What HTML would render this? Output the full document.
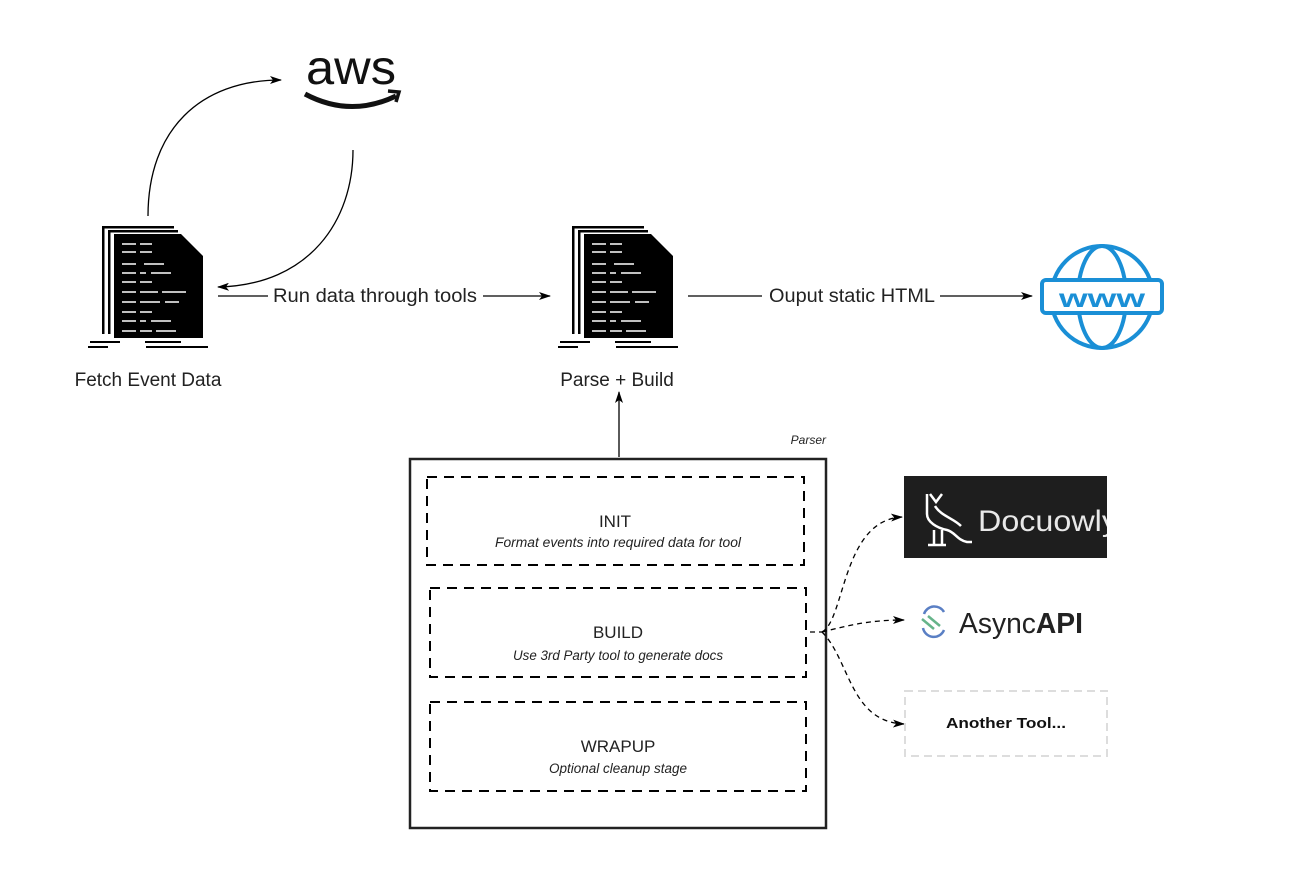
<!DOCTYPE html>
<html><head><meta charset="utf-8"><style>
html,body{margin:0;padding:0;background:#fff;width:1312px;height:878px;overflow:hidden}
text{font-family:"Liberation Sans",sans-serif;fill:#222}
</style></head><body>
<svg width="1312" height="878" viewBox="0 0 1312 878" xmlns="http://www.w3.org/2000/svg">
<defs>
<marker id="ar" markerWidth="12" markerHeight="8" refX="11" refY="4" orient="auto" markerUnits="userSpaceOnUse">
<path d="M0,0 L12,4 L0,8 L3,4 Z" fill="#000"/></marker>
<g id="doc">
<rect x="12" y="0" width="2.5" height="108" fill="#000"/><rect x="12" y="0" width="72" height="2.5" fill="#000"/>
<rect x="18" y="4" width="2.5" height="104" fill="#000"/><rect x="18" y="4" width="70" height="2.5" fill="#000"/>
<path d="M24,8 L91,8 L113,30 L113,112 L24,112 Z" fill="#000"/>
<g stroke="#fff" stroke-width="1.6">
<path d="M32,18h14M50,18h12"/>
<path d="M32,26h14M50,26h12"/>
<path d="M32,38h14M54,38h20"/>
<path d="M32,47h14M50,47h6M61,47h20"/>
<path d="M32,56h14M50,56h12"/>
<path d="M32,66h14M50,66h18M72,66h24"/>
<path d="M32,76h14M50,76h20M75,76h14"/>
<path d="M32,86h14M50,86h12"/>
<path d="M32,95h14M50,95h6M61,95h20"/>
<path d="M32,105h14M50,105h12M66,105h20"/>
</g>
<path d="M0,116h30M55,116h36M-2,121h20M56,121h62" stroke="#000" stroke-width="2"/>
</g>
</defs>

<!-- AWS -->
<text x="306" y="84" font-size="48" fill="#111" style="fill:#111" textLength="90" lengthAdjust="spacingAndGlyphs">aws</text>
<path d="M305,94 Q350,118 396,96" stroke="#111" stroke-width="5" fill="none"/>
<path d="M388,91 L399,92 L396,102" stroke="#111" stroke-width="3.5" fill="none"/>

<!-- curved arrows -->
<path d="M148,216 C148,130 200,80 281,80" stroke="#000" stroke-width="1.3" fill="none" marker-end="url(#ar)"/>
<path d="M353,150 C353,220 310,285 218,287" stroke="#000" stroke-width="1.3" fill="none" marker-end="url(#ar)"/>

<!-- docs -->
<use href="#doc" transform="translate(90,226)"/>
<use href="#doc" transform="translate(560,226)"/>
<text x="148" y="386" font-size="19" text-anchor="middle">Fetch Event Data</text>
<text x="617" y="386" font-size="19" text-anchor="middle">Parse + Build</text>

<!-- horizontal arrows -->
<path d="M218,296 H268" stroke="#000" stroke-width="1.3"/>
<path d="M483,296 H550" stroke="#000" stroke-width="1.3" marker-end="url(#ar)"/>
<text x="375" y="302" font-size="19" text-anchor="middle" textLength="204" lengthAdjust="spacingAndGlyphs">Run data through tools</text>
<path d="M688,296 H762" stroke="#000" stroke-width="1.3"/>
<path d="M940,296 H1032" stroke="#000" stroke-width="1.3" marker-end="url(#ar)"/>
<text x="852" y="302" font-size="19" text-anchor="middle" textLength="166" lengthAdjust="spacingAndGlyphs">Ouput static HTML</text>

<!-- globe -->
<g stroke="#1a8fd6" stroke-width="4" fill="none">
<circle cx="1102" cy="297" r="51"/>
<ellipse cx="1102" cy="297" rx="24" ry="51"/>
<rect x="1042" y="280" width="120" height="33" rx="4" fill="#fff"/>
</g>
<text x="1102" y="307" font-size="25" font-weight="bold" text-anchor="middle" style="fill:#1a8fd6" textLength="86" lengthAdjust="spacingAndGlyphs">www</text>

<!-- vertical arrow -->
<path d="M619,457 V392" stroke="#000" stroke-width="1.3" marker-end="url(#ar)"/>

<!-- parser box -->
<text x="826" y="444" font-size="12" font-style="italic" text-anchor="end">Parser</text>
<rect x="410" y="459" width="416" height="369" fill="none" stroke="#222" stroke-width="2.5"/>
<g fill="none" stroke="#000" stroke-width="2" stroke-dasharray="10,7">
<rect x="427" y="477" width="377" height="88"/>
<rect x="430" y="588" width="376" height="89"/>
<rect x="430" y="702" width="376" height="89"/>
</g>
<text x="615" y="527" font-size="17" text-anchor="middle">INIT</text>
<text x="618" y="547" font-size="13.5" font-style="italic" text-anchor="middle" textLength="246" lengthAdjust="spacingAndGlyphs">Format events into required data for tool</text>
<text x="618" y="638" font-size="17" text-anchor="middle">BUILD</text>
<text x="618" y="660" font-size="13.5" font-style="italic" text-anchor="middle" textLength="210" lengthAdjust="spacingAndGlyphs">Use 3rd Party tool to generate docs</text>
<text x="618" y="752" font-size="17" text-anchor="middle">WRAPUP</text>
<text x="618" y="773" font-size="13.5" font-style="italic" text-anchor="middle" textLength="138" lengthAdjust="spacingAndGlyphs">Optional cleanup stage</text>

<!-- dashed connectors -->
<g fill="none" stroke="#000" stroke-width="1.3" stroke-dasharray="5,4">
<path d="M810,632 H822"/>
<path d="M822,632 C845,620 842,520 902,517" marker-end="url(#ar)"/>
<path d="M822,632 C850,625 870,620 904,620" marker-end="url(#ar)"/>
<path d="M822,632 C850,660 850,722 904,724" marker-end="url(#ar)"/>
</g>

<!-- Docuowl -->
<rect x="904" y="476" width="203" height="82" fill="#1e1e1e"/>
<g stroke="#fff" stroke-width="2.5" fill="none">
<path d="M927,494 v20 c0,8 10,14 20,16 c8,2 10,10 20,12 h5"/>
<path d="M935,506 c6,10 18,12 26,20"/>
<path d="M930,494 l6,8 l6,-8"/>
<path d="M934,530 v14 M942,530 v14 M928,545 h18"/>
</g>
<text x="978" y="531" font-size="30" style="fill:#e8e8e8" textLength="140" lengthAdjust="spacingAndGlyphs">Docuowly</text>
<rect x="1107" y="470" width="30" height="95" fill="#fff"/>

<!-- AsyncAPI -->
<path d="M924,614 a11,11 0 0 1 20,-2" stroke="#5a7fc4" stroke-width="2.5" fill="none"/>
<path d="M923,628 a11,11 0 0 0 21,2" stroke="#5a7fc4" stroke-width="2.5" fill="none"/>
<path d="M922,619 l12,10 M928,616 l12,10" stroke="#66b48a" stroke-width="2.5"/>
<text x="959" y="633" font-size="29" style="fill:#222" textLength="124" lengthAdjust="spacingAndGlyphs">Async<tspan font-weight="bold">API</tspan></text>

<!-- Another tool -->
<rect x="905" y="691" width="202" height="65" fill="none" stroke="#ddd" stroke-width="2" stroke-dasharray="8,5"/>
<text x="1006" y="728" font-size="15" font-weight="bold" text-anchor="middle" style="fill:#111" textLength="120" lengthAdjust="spacingAndGlyphs">Another Tool...</text>
</svg>
</body></html>
